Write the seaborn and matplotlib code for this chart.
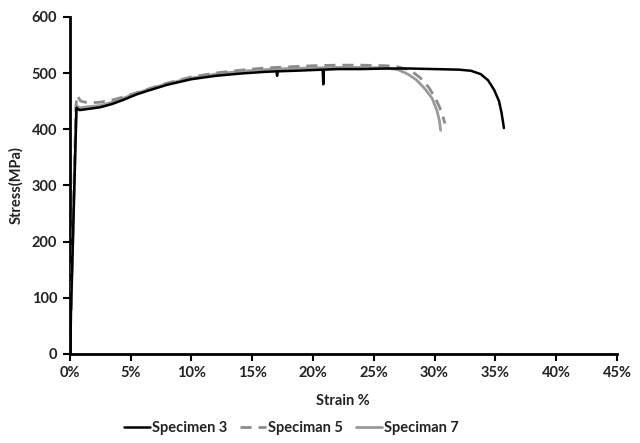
import matplotlib
matplotlib.use("Agg")
import matplotlib.pyplot as plt
import seaborn as sns
import pandas as pd

# Specimen 3 (black solid)
s3_strain = [0.05, 0.1, 0.55, 0.8, 1.5, 2.5, 3.5, 4.5, 5.5, 6.5, 8, 10, 12, 14, 16, 17.0, 17.05, 17.1,
             18.5, 20.8, 20.85, 20.9, 22, 24, 26, 28, 30, 32, 33, 33.8, 34.4, 34.9, 35.3, 35.5, 35.65, 35.7]
s3_stress = [0, 75, 438, 434, 436, 439, 445, 453, 462, 469, 479, 489, 495, 499, 502, 503, 495, 503,
             504, 506, 480, 506, 507, 507, 508, 508, 507, 506, 504, 498, 487, 470, 450, 430, 410, 402]

# Speciman 5 (grey dashed)
s5_strain = [0.1, 0.5, 0.6, 0.9, 1.5, 2.5, 3.5, 4.5, 5.5, 6.5, 8, 10, 12, 14, 16, 18, 20, 22, 24,
             26, 27, 28, 28.8, 29.5, 30.0, 30.4, 30.7, 30.85]
s5_stress = [78, 440, 460, 450, 447, 448, 452, 458, 465, 472, 482, 493, 500, 505, 509, 511, 513, 514, 514,
             513, 511, 505, 492, 475, 458, 440, 422, 410]

# Speciman 7 (grey solid)
s7_strain = [0.1, 0.55, 0.8, 1.5, 2.5, 3.5, 4.5, 5.5, 6.5, 8, 10, 12, 14, 16, 18, 20, 22, 24, 26,
             27, 27.8, 28.5, 29.2, 29.8, 30.2, 30.4, 30.5]
s7_stress = [78, 442, 438, 440, 442, 448, 456, 464, 471, 481, 491, 498, 503, 506, 508, 509, 510, 510, 509,
             506, 498, 488, 472, 455, 433, 415, 398]

x_ticks = [0, 5, 10, 15, 20, 25, 30, 35, 40, 45]
x_tick_labels = [f"{t}%" for t in x_ticks]
y_ticks = [0, 100, 200, 300, 400, 500, 600]

sns.set_theme(style="white")
plt.rcParams['font.family'] = ['Lato', 'DejaVu Sans']
plt.rcParams['font.weight'] = 'bold'

fig = plt.figure(figsize=(6.4, 4.43), dpi=100)
ax = fig.add_axes([0.109, 0.201, 0.855, 0.761])

d3 = pd.DataFrame({"x": s3_strain, "y": s3_stress})
d5 = pd.DataFrame({"x": s5_strain, "y": s5_stress})
d7 = pd.DataFrame({"x": s7_strain, "y": s7_stress})

sns.lineplot(data=d7, x="x", y="y", ax=ax, sort=False, estimator=None, color="#9a9a9a", lw=2.0,
             label="Speciman 7", zorder=2)
sns.lineplot(data=d5, x="x", y="y", ax=ax, sort=False, estimator=None, color="#8c8c8c", lw=2.0,
             linestyle=(0, (4, 2.5)), label="Speciman 5", zorder=3)
sns.lineplot(data=d3, x="x", y="y", ax=ax, sort=False, estimator=None, color="black", lw=1.8,
             label="Specimen 3", zorder=4)

ax.set_xlim(0, 45)
ax.set_ylim(0, 600)
ax.set_xticks(x_ticks)
ax.set_xticklabels(x_tick_labels)
ax.set_yticks(y_ticks)
ax.tick_params(axis='both', which='major', direction='out', length=5, width=1.5, color='black',
               labelsize=10.5, labelcolor='#222222', bottom=True, left=True, pad=4)
for lab in ax.get_xticklabels() + ax.get_yticklabels():
    lab.set_fontweight('bold')
for side in ['top', 'right']:
    ax.spines[side].set_visible(False)
for side in ['left', 'bottom']:
    ax.spines[side].set_color('black')
    ax.spines[side].set_linewidth(2)

ax.set_xlabel("Strain %", fontsize=10.5, fontweight='bold', color='#222222', labelpad=10)
ax.set_ylabel("Stress(MPa)", fontsize=10.5, fontweight='bold', color='#222222', labelpad=6)

handles, labels = ax.get_legend_handles_labels()
ax.get_legend().remove()
order = [labels.index("Specimen 3"), labels.index("Speciman 5"), labels.index("Speciman 7")]
leg = fig.legend([handles[i] for i in order], [labels[i] for i in order],
                 loc='center', bbox_to_anchor=(0.455, 1 - 428 / 443), ncol=3, frameon=False,
                 fontsize=10.5, handlelength=1.8, handletextpad=0.1, columnspacing=0.9)
for t in leg.get_texts():
    t.set_fontweight('bold')
    t.set_color('#222222')

fig.savefig("out.png", dpi=100)
